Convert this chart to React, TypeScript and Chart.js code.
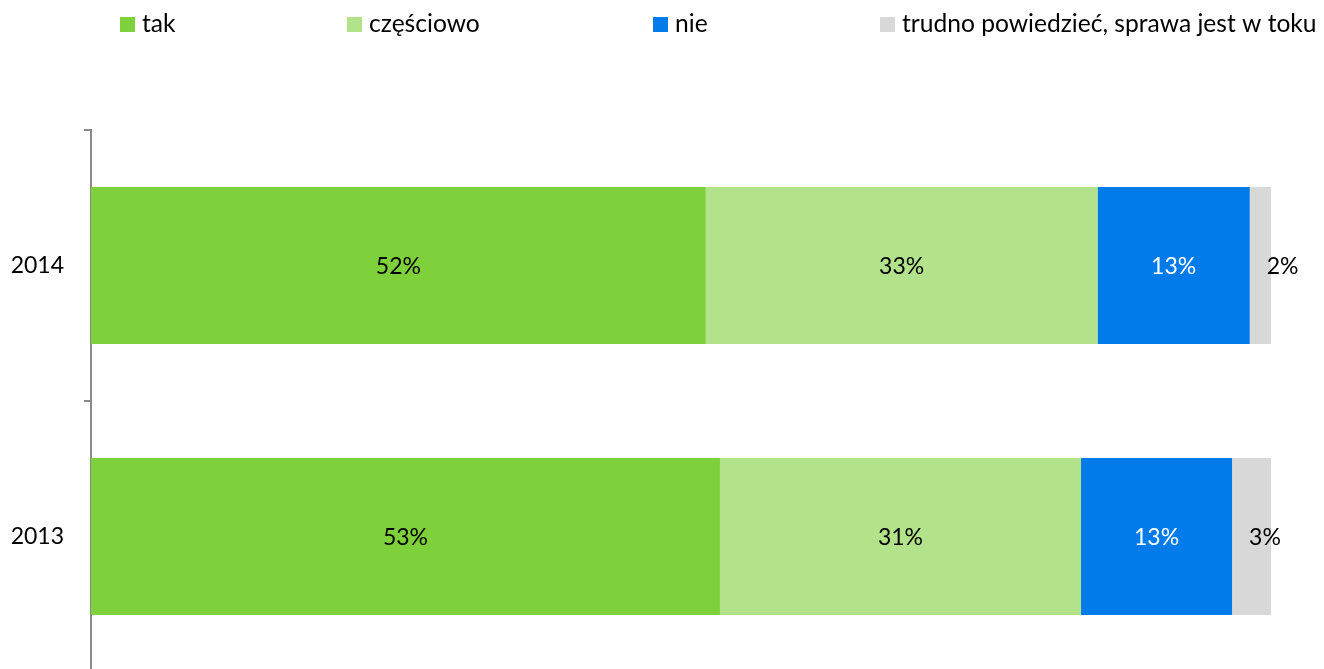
import React, { useEffect, useRef } from "react";
import { Chart, registerables } from "chart.js";

Chart.register(...registerables);

// ---- data ----
const years = ["2014", "2013"];
const seriesNames = ["tak", "częściowo", "nie", "trudno powiedzieć, sprawa jest w toku"];
const takValues = [52.1, 53.3];
const czesciowoValues = [33.2, 30.6];
const nieValues = [12.9, 12.8];
const trudnoValues = [1.8, 3.3];

const seriesColors = ["#7ED13B", "#B2E38A", "#007BE9", "#D8D8D8"];
const labelColors = ["#000000", "#000000", "#FFFFFF", "#000000"];

const FONT_FAMILY = "Lato, 'Open Sans', 'DejaVu Sans', sans-serif";
const LEGEND_FONT_SIZE = 24.6;
const FONT_SIZE = 23;

const legendPlugin = {
  id: "customLegend",
  afterDraw(chart: any) {
    const ctx = chart.ctx;
    const xs = [120, 347, 653, 880];
    const y = 17;
    const sq = 15;
    ctx.save();
    ctx.font = `${LEGEND_FONT_SIZE}px ${FONT_FAMILY}`;
    ctx.textBaseline = "middle";
    ctx.textAlign = "left";
    chart.data.datasets.forEach((ds: any, i: number) => {
      ctx.fillStyle = ds.backgroundColor;
      ctx.fillRect(xs[i], y, sq, sq);
      ctx.fillStyle = "#000000";
      ctx.fillText(ds.label, xs[i] + sq + 7, y + sq / 2 - 0.5);
    });
    ctx.restore();
  },
};

const labelPlugin = {
  id: "segLabels",
  afterDatasetsDraw(chart: any) {
    const ctx = chart.ctx;
    ctx.save();
    ctx.font = `${FONT_SIZE}px ${FONT_FAMILY}`;
    ctx.textBaseline = "middle";
    chart.data.datasets.forEach((ds: any, di: number) => {
      const meta = chart.getDatasetMeta(di);
      meta.data.forEach((el: any, i: number) => {
        const v = ds.data[i];
        const txt = Math.round(v) + "%";
        ctx.fillStyle = labelColors[di];
        const start = Math.min(el.base, el.x);
        const end = Math.max(el.base, el.x);
        if (end - start < 45) {
          ctx.textAlign = "left";
          ctx.fillText(txt, start + 17, el.y + 1);
        } else {
          ctx.textAlign = "center";
          ctx.fillText(txt, (start + end) / 2, el.y + 1);
        }
      });
    });
    ctx.restore();
  },
};

export default function App() {
  const ref = useRef<HTMLCanvasElement | null>(null);

  useEffect(() => {
    if (!ref.current) return;
    const valueSets = [takValues, czesciowoValues, nieValues, trudnoValues];
    const chart = new Chart(ref.current, {
      type: "bar",
      data: {
        labels: years,
        datasets: valueSets.map((vals, i) => ({
          label: seriesNames[i],
          data: vals,
          backgroundColor: seriesColors[i],
          borderWidth: 0,
          barPercentage: 0.58,
          categoryPercentage: 1,
        })),
      },
      options: {
        indexAxis: "y",
        responsive: true,
        maintainAspectRatio: false,
        animation: false,
        layout: { padding: { top: 130, right: 53, bottom: 0, left: 0 } },
        plugins: {
          legend: { display: false },
          tooltip: { enabled: false },
        },
        scales: {
          x: {
            stacked: true,
            min: 0,
            max: 100,
            display: false,
          },
          y: {
            stacked: true,
            offset: true,
            afterFit: (scale: any) => {
              scale.width = 91;
              scale.paddingTop = 0;
              scale.paddingBottom = 0;
            },
            grid: {
              offset: true,
              drawOnChartArea: false,
              drawTicks: true,
              tickLength: 7,
              color: "#898989",
              lineWidth: 2,
            },
            border: { display: true, color: "#898989", width: 2 },
            ticks: {
              padding: 20,
              color: "#000000",
              font: { family: FONT_FAMILY, size: FONT_SIZE },
            },
          },
        },
      },
      plugins: [legendPlugin, labelPlugin],
    } as any);
    return () => chart.destroy();
  }, []);

  return (
    <div
      style={{
        position: "absolute",
        top: 0,
        left: 0,
        width: 1324,
        height: 669,
        overflow: "hidden",
        background: "#ffffff",
      }}
    >
      <div style={{ position: "relative", width: 1324, height: 672 }}>
        <canvas ref={ref} />
      </div>
    </div>
  );
}
